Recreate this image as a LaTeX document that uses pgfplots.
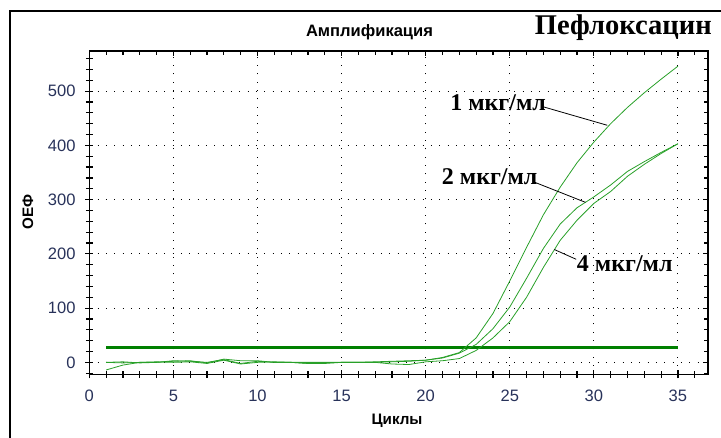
\documentclass[border=0pt]{standalone}
\usepackage{pgfplots}
\pgfplotsset{compat=1.18}
\usepackage{pgfplotstable}
\usepackage{fontspec}
\setmainfont{Liberation Sans}
\newfontfamily\serifb{Liberation Serif}
\definecolor{curve}{RGB}{40,160,40}
\definecolor{thresh}{RGB}{0,128,0}
\definecolor{ticktext}{RGB}{40,50,90}

% fluorescence (ОЕФ) per cycle for the three concentrations
\pgfplotstableread{
x  c1   c2   c3
1  0    0    -14
2  -1   1    -5
3  0    -1   0
4  0    0    1
5  2    3    0
6  3    2    1
7  -1   0    -2
8  6    5    4
9  3    -2   -3
10 3    2    0
11 0    0    1
12 0    0    0
13 -2   0    -2
14 -1   0    -2
15 0    0    0
16 0    0    0
17 0    1    0
18 1    2    -3
19 2    3    -4
20 4    4    1
21 9    8    3
22 18   17   7
23 45   33   22
24 90   62   45
25 150  102  75
26 212  155  120
27 272  210  175
28 323  255  225
29 368  285  262
30 406  305  293
31 440  327  315
32 470  352  343
33 497  370  365
34 522  387  385
35 546  403  403
}\amp

\pgfplotstableread{
x  t
1  28
35 28
}\thr

\begin{document}
\begin{tikzpicture}
\useasboundingbox (0,0) rectangle (540.75pt,-328.5pt);
\begin{scope}[x=0.75pt,y=-0.75pt]
  \begin{scope}
    \clip (0,0) rectangle (721,438);
    \draw[line width=1.5pt] (10,10.7) rectangle (740,460);
  \end{scope}
  \node[font=\bfseries\fontsize{12.4}{14}\selectfont] at (369.5,32.5) {Амплификация};
  \node[font=\serifb\bfseries\fontsize{21.4}{24}\selectfont, anchor=base east, inner sep=0] at (712,35) {Пефлоксацин};
  \node[font=\bfseries\fontsize{11.4}{13}\selectfont] at (397,421) {Циклы};
  \node[font=\bfseries\fontsize{11.4}{13}\selectfont, rotate=90] at (28,211.7) {ОЕФ};
\end{scope}

\pgfplotsset{
  ampframe/.style={
    at={(66.975pt,-280.725pt)}, anchor=south west,
    scale only axis, width=463.8pt, height=242.5pt,
    xmin=0, xmax=36.77, ymin=-22, ymax=574,
    axis line style={line width=1.2pt},
    tick style={black, line width=0.9pt},
    xtick={0,5,...,35}, ytick={0,100,...,500},
    minor xtick={0,...,36}, minor ytick={-20,0,...,560},
  }
}

\begin{axis}[ampframe,
  tick align=center, xtick pos=left, ytick pos=left,
  major tick length=6pt, minor tick length=5pt,
  grid=major,
  major grid style={black, line width=0.75pt, dash pattern=on 0.75pt off 5.5pt},
  ticklabel style={font=\fontsize{12.4}{14}\selectfont, text=ticktext},
  xticklabel style={yshift=-5.2pt},
  yticklabel style={xshift=-3.8pt},
  /pgf/number format/assume math mode=true,
  clip=false]
  \addplot[thresh, line width=2.25pt] table[x=x,y=t]{\thr};
  \addplot[curve, line width=0.6pt] table[x=x,y=c1]{\amp};
  \addplot[curve, line width=0.6pt] table[x=x,y=c2]{\amp};
  \addplot[curve, line width=0.6pt] table[x=x,y=c3]{\amp};
  % leaders for the concentration labels
  \draw[black, line width=0.6pt] (axis cs:27.0,471) -- (axis cs:30.8,437);
  \draw[black, line width=0.6pt] (axis cs:26.4,333) -- (axis cs:29.5,295);
  \draw[black, line width=0.6pt] (axis cs:27.65,208) -- (axis cs:28.95,190);
  \node[anchor=base west, inner sep=0, font=\serifb\bfseries\fontsize{18}{20}\selectfont] at (axis cs:21.45,465) {1 мкг/мл};
  \node[anchor=base west, inner sep=0, font=\serifb\bfseries\fontsize{18}{20}\selectfont] at (axis cs:20.95,328.6) {2 мкг/мл};
  \node[anchor=base west, inner sep=0, font=\serifb\bfseries\fontsize{18}{20}\selectfont] at (axis cs:28.98,167) {4 мкг/мл};
\end{axis}

\begin{axis}[ampframe,
  tick align=inside, xtick pos=right, ytick pos=right,
  major tick length=3.5pt, minor tick length=3pt,
  xticklabels={}, yticklabels={}]
\end{axis}
\end{tikzpicture}
\end{document}
